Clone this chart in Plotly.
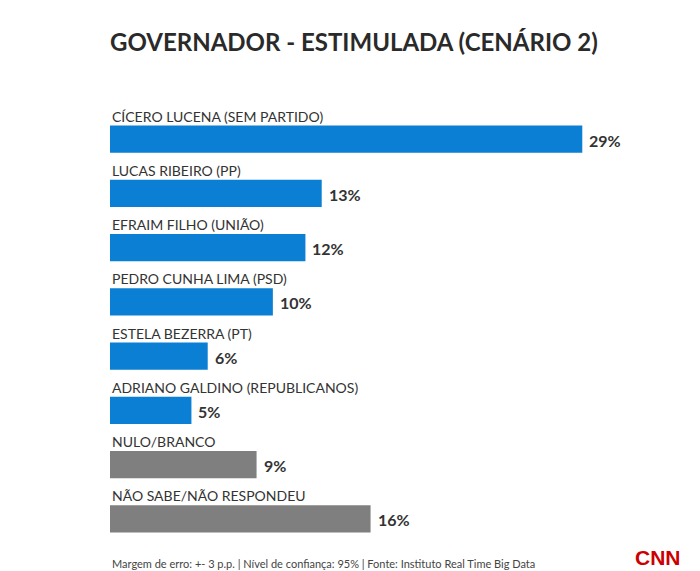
import plotly.graph_objects as go

# poll values (%)
candidates = [
    "CÍCERO LUCENA (SEM PARTIDO)",
    "LUCAS RIBEIRO (PP)",
    "EFRAIM FILHO (UNIÃO)",
    "PEDRO CUNHA LIMA (PSD)",
    "ESTELA BEZERRA (PT)",
    "ADRIANO GALDINO (REPUBLICANOS)",
    "NULO/BRANCO",
    "NÃO SABE/NÃO RESPONDEU",
]
values = [29, 13, 12, 10, 6, 5, 9, 16]
is_candidate = [True, True, True, True, True, True, False, False]

BLUE = "#0a7fd3"
GRAY = "#7f7f7f"
FONT = "Lato"

colors = [BLUE if c else GRAY for c in is_candidate]

fig = go.Figure()
fig.add_trace(go.Bar(
    x=values,
    y=candidates,
    orientation="h",
    marker=dict(color=colors, line=dict(width=0)),
    width=0.5,
    hoverinfo="skip",
))

# name above each bar, value to the right of it
for name, v in zip(candidates, values):
    fig.add_annotation(
        x=0, y=name, xref="x", yref="y",
        text=name, showarrow=False,
        xanchor="left", yanchor="middle", yshift=23,
        font=dict(family=FONT, size=14, color="#333333"),
    )
    fig.add_annotation(
        x=v, y=name, xref="x", yref="y",
        text=f"{v}%", showarrow=False,
        xanchor="left", yanchor="middle", xshift=5, yshift=-1,
        font=dict(family=FONT, size=16, color="#333333", weight="bold"),
    )

fig.add_annotation(
    x=0, y=0, xref="paper", yref="paper", yshift=-17,
    text="Margem de erro: +- 3 p.p. | Nível de confiança: 95% | Fonte: Instituto Real Time Big Data",
    showarrow=False, xanchor="left", yanchor="middle",
    font=dict(family=FONT, size=11, color="#444444"),
)
fig.add_annotation(
    x=1.0, y=0, xref="paper", yref="paper", xshift=3, yshift=-11, text="CNN",
    showarrow=False, xanchor="right", yanchor="middle",
    font=dict(family="Liberation Sans Narrow, Liberation Sans", size=21, color="#cc0000", weight="bold"),
)

fig.update_layout(
    width=700, height=571,
    title=dict(
        text="GOVERNADOR - ESTIMULADA (CENÁRIO 2)",
        xref="container", yref="container",
        x=102 / 700, y=1 - 35 / 571, xanchor="left", yanchor="middle",
        font=dict(family=FONT, size=24, color="#2a2a2a", weight="bold"),
    ),
    margin=dict(l=102, r=28, t=104, b=33),
    paper_bgcolor="white", plot_bgcolor="white",
    showlegend=False,
    xaxis=dict(range=[0, 35], visible=False, fixedrange=True),
    yaxis=dict(range=[7.5, -0.5], visible=False, type="category",
               categoryorder="array", categoryarray=candidates, fixedrange=True),
)

fig.write_html("out.html")
